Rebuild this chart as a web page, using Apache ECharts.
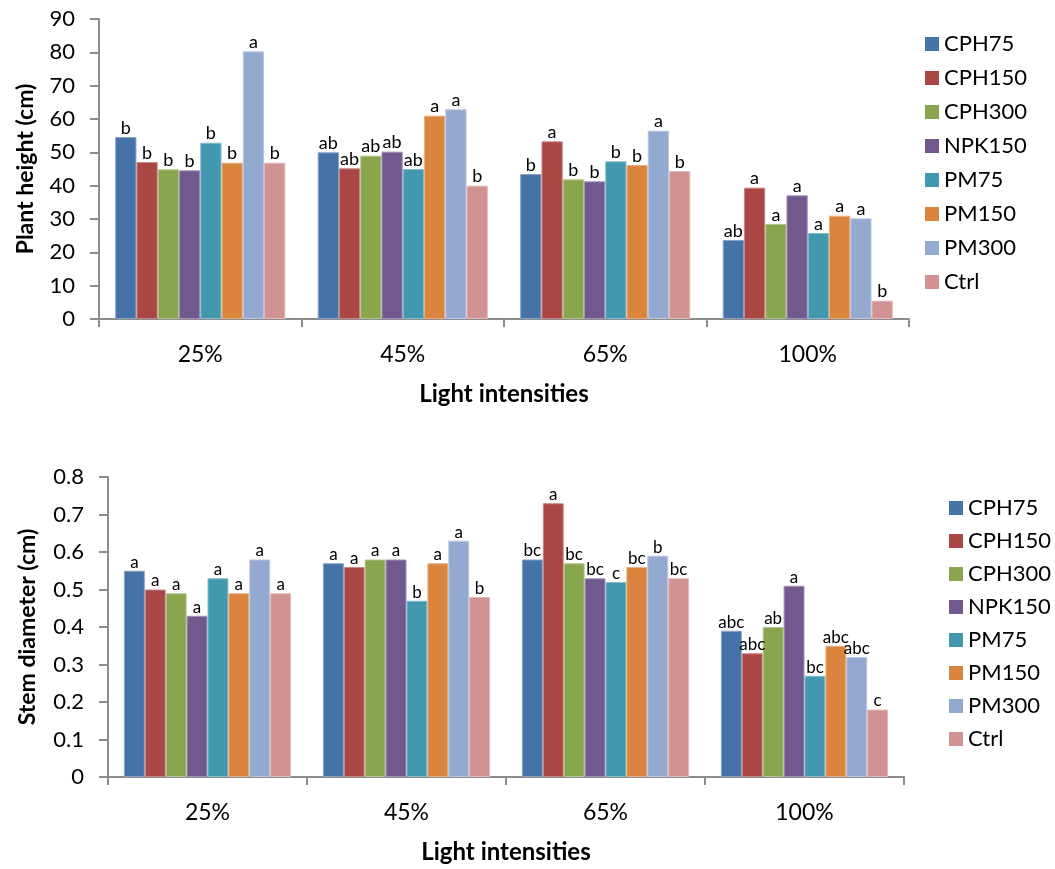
<!DOCTYPE html>
<html>
<head>
<meta charset="utf-8">
<script src="https://cdn.jsdelivr.net/npm/echarts@6/dist/echarts.min.js"></script>
<style>
  html, body { margin: 0; padding: 0; background: #fff; }
  #chart { width: 1055px; height: 869px; }
</style>
</head>
<body>
<div id="chart"></div>
<script>
// Light intensity treatments (x categories)
const categories = ['25%', '45%', '65%', '100%'];
const seriesNames = ['CPH75', 'CPH150', 'CPH300', 'NPK150', 'PM75', 'PM150', 'PM300', 'Ctrl'];
const colors = ['#4572A7', '#AA4643', '#89A54E', '#71588F', '#4198AF', '#DB843D', '#93A9CF', '#D19392'];

// Plant height (cm), one array per treatment, values per light intensity
const heightCPH75  = [54.6, 50.0, 43.5, 23.7];
const heightCPH150 = [47.1, 45.2, 53.3, 39.4];
const heightCPH300 = [44.9, 49.0, 41.9, 28.5];
const heightNPK150 = [44.6, 50.2, 41.3, 37.1];
const heightPM75   = [52.9, 45.0, 47.3, 25.8];
const heightPM150  = [46.9, 61.0, 46.2, 31.0];
const heightPM300  = [80.3, 62.9, 56.5, 30.2];
const heightCtrl   = [46.9, 40.0, 44.4, 5.5];

// Significance letters for plant height
const heightLetCPH75  = ['b', 'ab', 'b', 'ab'];
const heightLetCPH150 = ['b', 'ab', 'a', 'a'];
const heightLetCPH300 = ['b', 'ab', 'b', 'a'];
const heightLetNPK150 = ['b', 'ab', 'b', 'a'];
const heightLetPM75   = ['b', 'ab', 'b', 'a'];
const heightLetPM150  = ['b', 'a', 'b', 'a'];
const heightLetPM300  = ['a', 'a', 'a', 'a'];
const heightLetCtrl   = ['b', 'b', 'b', 'b'];

// Stem diameter (cm)
const stemCPH75  = [0.55, 0.57, 0.58, 0.39];
const stemCPH150 = [0.50, 0.56, 0.73, 0.33];
const stemCPH300 = [0.49, 0.58, 0.57, 0.40];
const stemNPK150 = [0.43, 0.58, 0.53, 0.51];
const stemPM75   = [0.53, 0.47, 0.52, 0.27];
const stemPM150  = [0.49, 0.57, 0.56, 0.35];
const stemPM300  = [0.58, 0.63, 0.59, 0.32];
const stemCtrl   = [0.49, 0.48, 0.53, 0.18];

// Significance letters for stem diameter
const stemLetCPH75  = ['a', 'a', 'bc', 'abc'];
const stemLetCPH150 = ['a', 'a', 'a', 'abc'];
const stemLetCPH300 = ['a', 'a', 'bc', 'ab'];
const stemLetNPK150 = ['a', 'a', 'bc', 'a'];
const stemLetPM75   = ['a', 'b', 'c', 'bc'];
const stemLetPM150  = ['a', 'a', 'bc', 'abc'];
const stemLetPM300  = ['a', 'a', 'b', 'abc'];
const stemLetCtrl   = ['a', 'b', 'bc', 'c'];

// Y tick settings
const heightMax = 90, heightStep = 10;
const stemMax = 0.8, stemStep = 0.1;

const heightValues = [heightCPH75, heightCPH150, heightCPH300, heightNPK150, heightPM75, heightPM150, heightPM300, heightCtrl];
const heightLetters = [heightLetCPH75, heightLetCPH150, heightLetCPH300, heightLetNPK150, heightLetPM75, heightLetPM150, heightLetPM300, heightLetCtrl];
const stemValues = [stemCPH75, stemCPH150, stemCPH300, stemNPK150, stemPM75, stemPM150, stemPM300, stemCtrl];
const stemLetters = [stemLetCPH75, stemLetCPH150, stemLetCPH300, stemLetNPK150, stemLetPM75, stemLetPM150, stemLetPM300, stemLetCtrl];

const FONT = 'Lato, "Open Sans", sans-serif';
const axisGray = '#8c8c8c';

function lighten(hex, amt) {
  const n = parseInt(hex.slice(1), 16);
  const r = (n >> 16) & 255, g = (n >> 8) & 255, b = n & 255;
  const f = c => Math.round(c + (255 - c) * amt);
  return 'rgb(' + f(r) + ',' + f(g) + ',' + f(b) + ')';
}

function xAxisFor(gridIndex) {
  return {
    type: 'category', gridIndex: gridIndex, data: categories,
    name: 'Light intensities', nameLocation: 'middle', nameGap: 63,
    nameTextStyle: { fontFamily: FONT, fontSize: 24, fontWeight: 'bold', color: '#000' },
    axisLine: { lineStyle: { color: axisGray, width: 2 } },
    axisTick: { show: true, length: 8, lineStyle: { color: axisGray, width: 2 } },
    axisLabel: { fontFamily: FONT, fontSize: 23, color: '#000', margin: 24 },
    splitLine: { show: false }
  };
}

function yAxisFor(gridIndex, name, max, step, gap, fmt) {
  return {
    type: 'value', gridIndex: gridIndex, min: 0, max: max, interval: step,
    name: name, nameLocation: 'middle', nameGap: gap,
    nameTextStyle: { fontFamily: FONT, fontSize: 23, fontWeight: 'bold', color: '#000' },
    axisLine: { show: true, lineStyle: { color: axisGray, width: 2 } },
    axisTick: { show: true, length: 9, lineStyle: { color: axisGray, width: 2 } },
    axisLabel: { fontFamily: FONT, fontSize: 22, color: '#000', margin: 24, formatter: fmt },
    splitLine: { show: false }
  };
}

function barSeries(values, letters, axisIndex, labelSize) {
  return seriesNames.map((name, i) => ({
    name: name, type: 'bar', xAxisIndex: axisIndex, yAxisIndex: axisIndex,
    data: values[i],
    barGap: '0%', barCategoryGap: '16%',
    itemStyle: { color: colors[i], borderColor: lighten(colors[i], 0.35), borderWidth: 1 },
    label: {
      show: true, position: 'top', distance: 0,
      fontFamily: FONT, fontSize: labelSize, color: '#000',
      formatter: p => letters[i][p.dataIndex]
    },
    animation: false
  }));
}

function legendFor(left, top, gap) {
  return {
    orient: 'vertical', left: left, top: top, itemGap: gap,
    itemWidth: 14, itemHeight: 14, itemStyle: { borderWidth: 0 }, icon: 'rect',
    data: seriesNames,
    textStyle: { fontFamily: FONT, fontSize: 22, color: '#000', lineHeight: 22 },
    selectedMode: false
  };
}

const chart = echarts.init(document.getElementById('chart'), null, { renderer: 'canvas' });
chart.setOption({
  backgroundColor: '#fff',
  color: colors,
  animation: false,
  grid: [
    { left: 99, top: 19, width: 810, height: 300 },
    { left: 108, top: 477, width: 796, height: 300 }
  ],
  xAxis: [xAxisFor(0), xAxisFor(1)],
  yAxis: [
    yAxisFor(0, 'Plant height (cm)', heightMax, heightStep, 62, v => String(v)),
    yAxisFor(1, 'Stem diameter (cm)', stemMax, stemStep, 69, v => v === 0 ? '0' : v.toFixed(1))
  ],
  legend: [legendFor(920, 28, 12), legendFor(944, 492, 11)],
  series: barSeries(heightValues, heightLetters, 0, 18).concat(barSeries(stemValues, stemLetters, 1, 17))
});
</script>
</body>
</html>
